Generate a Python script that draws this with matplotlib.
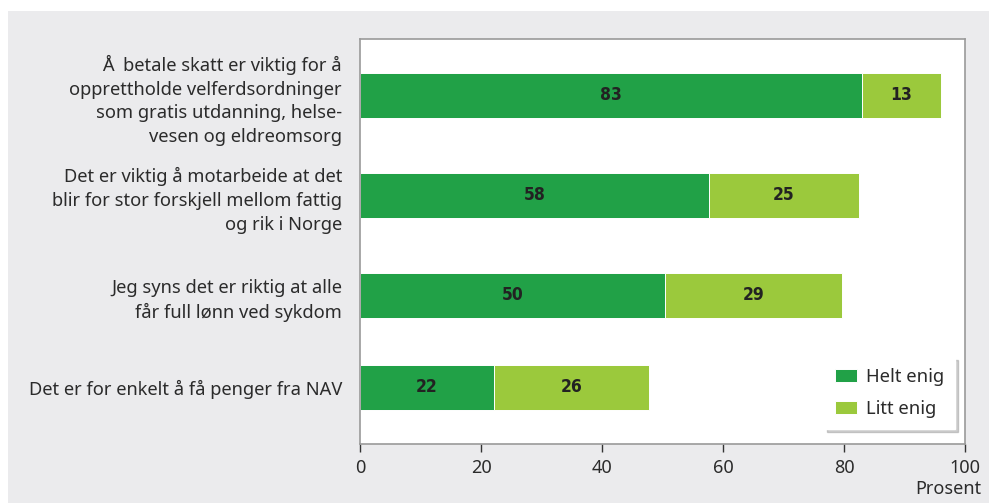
import matplotlib
matplotlib.use('Agg')
import matplotlib.pyplot as plt
from matplotlib.patches import Rectangle

# data
categories=['Å  betale skatt er viktig for å\nopprettholde velferdsordninger\nsom gratis utdanning, helse-\nvesen og eldreomsorg',
	'Det er viktig å motarbeide at det\nblir for stor forskjell mellom fattig\nog rik i Norge',
	'Jeg syns det er riktig at alle\nfår full lønn ved sykdom',
	'Det er for enkelt å få penger fra NAV']
heltEnig=[83.0,57.7,50.4,22.1]
littEnig=[13.0,24.8,29.3,25.6]
heltLabels=['83','58','50','22']
littLabels=['13','25','29','26']
xticks=[0,20,40,60,80,100]

# layout
yPos=[3.485,2.485,1.485,0.565]
cDark='#21a147'
cLight='#9bc93c'
bg='#ebebed'
txt='#2b2b2b'

plt.rcParams['font.family']=['Noto Sans','DejaVu Sans']

fig=plt.figure(figsize=(9.89,5.03),dpi=100)
fig.patch.set_facecolor('white')
fig.patches.append(Rectangle((8/989,0),1,1-11/503,transform=fig.transFigure,
	facecolor=bg,edgecolor='none',zorder=-10))

ax=fig.add_axes([360/989,1-444/503,605/989,405/503])
ax.set_facecolor('white')

b1=ax.barh(yPos,heltEnig,height=0.45,color=cDark,edgecolor='white',linewidth=0.7,label='Helt enig')
b2=ax.barh(yPos,littEnig,left=heltEnig,height=0.45,color=cLight,edgecolor='white',linewidth=0.7,label='Litt enig')

# 数值标签
numFont=dict(family='DejaVu Sans',fontstretch='condensed',fontweight='bold',fontsize=12.5,color='#222222')
for y,h,l,hl,ll in zip(yPos,heltEnig,littEnig,heltLabels,littLabels):
	ax.text(h/2,y,hl,ha='center',va='center',**numFont)
	ax.text(h+l/2,y,ll,ha='center',va='center',**numFont)

ax.set_xlim(0,100)
ax.set_ylim(0,4.05)
ax.set_xticks(xticks)
ax.set_xticklabels([str(t) for t in xticks],fontsize=13,color=txt)
ax.set_yticks(yPos)
ax.set_yticklabels(categories,fontsize=13.2,color=txt,linespacing=1.42)
ax.tick_params(axis='y',length=0,pad=13)
ax.tick_params(axis='x',direction='out',length=6,width=1,color='#333333',pad=5)
for s in ax.spines.values():
	s.set_color('#9a9a9a')
	s.set_linewidth(1.2)

fig.text(981/989,1-489/503,'Prosent',ha='right',va='center',fontsize=13,color=txt)

leg=ax.legend(loc='upper left',bbox_to_anchor=(824/989,1-357/503),bbox_transform=fig.transFigure,
	borderaxespad=0,frameon=True,fancybox=False,shadow={'ox':2,'oy':-2,'color':'#888888','alpha':0.4},fontsize=13.3,
	handlelength=1.2,handleheight=0.76,labelspacing=0.75,borderpad=0.6,handletextpad=0.45)
leg.get_frame().set_edgecolor('white')
leg.get_frame().set_facecolor('white')
leg.get_frame().set_alpha(1)
for t in leg.get_texts():
	t.set_color(txt)

fig.savefig('out.png',dpi=100)
